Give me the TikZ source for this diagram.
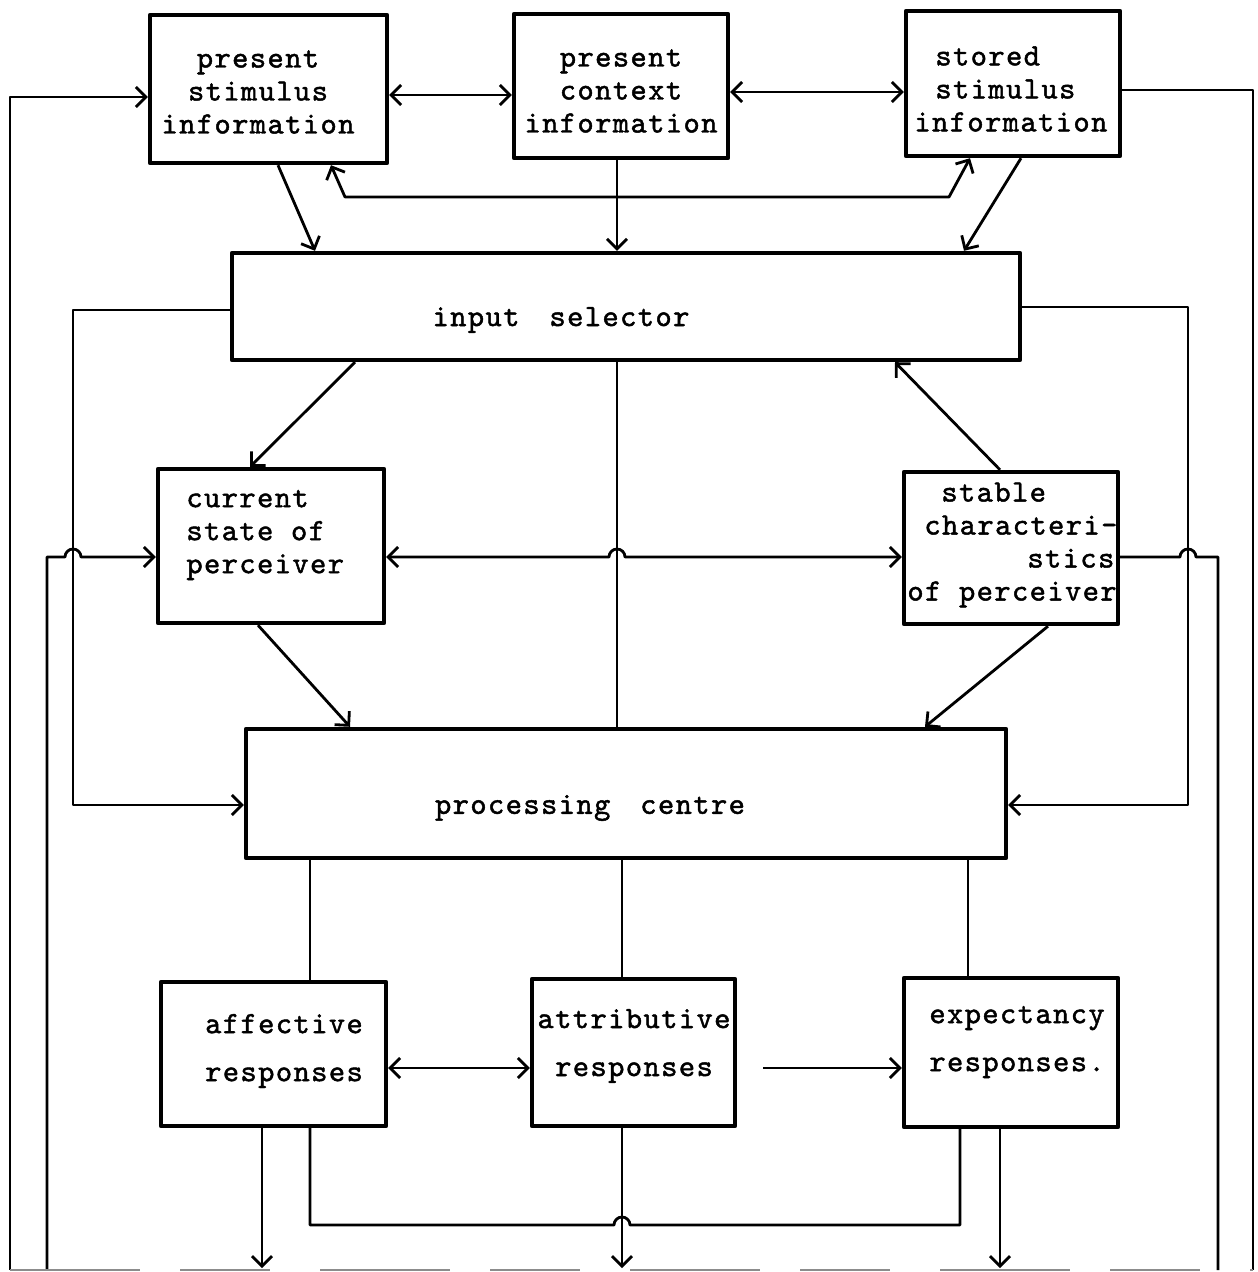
\documentclass[tikz,border=0pt]{standalone}
\usepackage{fontspec}
\usetikzlibrary{arrows.meta}
\newfontfamily\twf{lmmono10-regular}[Extension=.otf,LetterSpace=4.5,FakeBold=1.5]
\newcommand\tw{\twf\fontsize{31pt}{33pt}\selectfont}
\newcommand\gap{\hspace{17.7pt}}
\begin{document}
\begin{tikzpicture}[x=1pt,y=-1pt,line width=2.8pt,line join=round,
  bx/.style={draw,line width=4.4pt,inner sep=0pt},
  lbl/.style={font=\tw,inner sep=0pt},
  arr/.style={-{Straight Barb[length=10pt,width=20pt]}},
  dbl/.style={{Straight Barb[length=10pt,width=20pt]}-{Straight Barb[length=10pt,width=20pt]}},
  faint/.style={draw=black!45,line width=2pt}]
\useasboundingbox (0,0) rectangle (1258,1272);
% boxes
\node[bx,minimum width=237,minimum height=148] (ps) at (268.5,89) {};
\node[bx,minimum width=214,minimum height=144] (pc) at (621,86) {};
\node[bx,minimum width=214,minimum height=145] (ss) at (1013,83.5) {};
\node[bx,minimum width=788,minimum height=107] (is) at (626,306.5) {};
\node[bx,minimum width=226,minimum height=154] (cs) at (271,546) {};
\node[bx,minimum width=214,minimum height=152] (sc) at (1011,548) {};
\node[bx,minimum width=760,minimum height=129] (pr) at (626,793.5) {};
\node[bx,minimum width=225,minimum height=144] (af) at (273.5,1054) {};
\node[bx,minimum width=203,minimum height=147] (atr) at (633.5,1052.5) {};
\node[bx,minimum width=214,minimum height=149] (ex) at (1011,1052.5) {};
% texts
\node[lbl,align=center] (psT) at (258,92) {present\\stimulus\\information};
\node[lbl,align=center] (pcT) at (621,91) {present\\context\\information};
\node[lbl,align=left,anchor=west] (ssT) at (913,89) {\hspace*{21pt}stored\\\hspace*{21pt}stimulus\\information};
\node[lbl] (isT) at (561,320) {input\hspace{30pt}selector};
\node[lbl] (prT) at (590,808) {processing\hspace{30pt}centre};
\node[lbl,align=left,anchor=west] (csT) at (185,535) {current\\state\gap of\\perceiver};
\node[lbl,align=left,anchor=west] (scT) at (906,545) {\hspace*{34pt}stable\\\hspace*{17pt}characteri-\\\hspace*{120pt}stics\\of\gap perceiver};
\node[lbl,align=center] (afT) at (284,1051) {affective\\[15pt]responses};
\node[lbl,align=center] (atT) at (634,1046) {attributive\\[15pt]responses};
\node[lbl,align=left,anchor=west] (exT) at (928,1042) {expectancy\\[15pt]responses.};
% routing coordinates
\coordinate (oL) at (10,1270);
\coordinate (iL) at (47,1270);
\coordinate (iR) at (1218,1270);
\coordinate (oR) at (1253,1270);
\coordinate (atx) at (763,1068);
% top row
\draw[arr] (oL) -- (10,97) -- (ps.west |- 0,97);
\draw[dbl] (ps.east |- 0,95) -- (pc.west |- 0,95);
\draw[dbl] (pc.east |- 0,92) -- (ss.west |- 0,92);
\draw (ss.east |- 0,90) -| (oR);
\draw[dbl] (331,0 |- ps.south) -- (345,197) -- (949,197) -- (970,0 |- ss.south);
\draw[arr] (617,0 |- pc.south) -- (617,0 |- is.north);
\draw[arr] (278,0 |- ps.south) -- (315,0 |- is.north);
\draw[arr] (1021,0 |- ss.south) -- (964,0 |- is.north);
% input selector
\draw[arr] (is.west |- 0,310) -| (73,805) -- (pr.west |- 0,805);
\draw[arr] (is.east |- 0,307) -| (1188,805) -- (pr.east |- 0,805);
\draw[arr] (355,0 |- is.south) -- (250,0 |- cs.north);
\draw[arr] (1000,0 |- sc.north) -- (895,0 |- is.south);
\draw (617,0 |- is.south) -- (617,0 |- pr.north);
% perceiver row
\draw[dbl] (cs.east |- 0,557) -- (609,557) arc[start angle=180,end angle=0,radius=8pt] -- (sc.west |- 0,557);
\draw[arr] (iL) -- (47,557) -- (65,557) arc[start angle=180,end angle=0,radius=8pt] -- (cs.west |- 0,557);
\draw (sc.east |- 0,557) -- (1180,557) arc[start angle=180,end angle=0,radius=8pt] -| (iR);
\draw[arr] (258,0 |- cs.south) -- (350,0 |- pr.north);
\draw[arr] (1048,0 |- sc.south) -- (925,0 |- pr.north);
% processing centre to responses
\draw (310,0 |- pr.south) -- (310,0 |- af.north);
\draw (622,0 |- pr.south) -- (622,0 |- atr.north);
\draw (968,0 |- pr.south) -- (968,0 |- ex.north);
% responses
\draw[dbl] (af.east |- atx) -- (atr.west |- atx);
\draw[arr] (atx) -- (ex.west |- atx);
\draw (310,0 |- af.south) -- (310,1225) -- (614,1225) arc[start angle=180,end angle=0,radius=8pt] -- (960,1225) -- (960,0 |- ex.south);
\draw[arr] (262,0 |- af.south) -- (262,1268);
\draw[arr] (622,0 |- atr.south) -- (622,1268);
\draw[arr] (1000,0 |- ex.south) -- (1000,1268);
% bottom collector line
\draw[faint,dash pattern=on 130pt off 40pt on 90pt off 50pt] (oL) -- (oR);
\end{tikzpicture}
\end{document}
